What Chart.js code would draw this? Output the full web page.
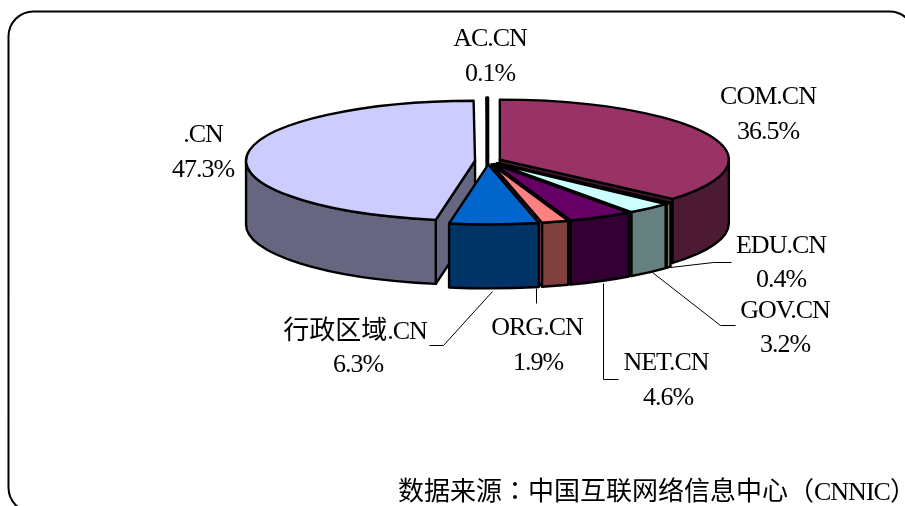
<!DOCTYPE html>
<html><head><meta charset="utf-8">
<style>html,body{margin:0;padding:0;background:#fff;overflow:hidden}#w{width:905px;height:506px;position:relative}</style>
<script src="https://cdn.jsdelivr.net/npm/chart.js@4"></script>
</head><body><div id="w"><canvas id="c" width="905" height="506"></canvas></div>
<script>
const categories = ['COM.CN','EDU.CN','GOV.CN','NET.CN','ORG.CN','行政区域.CN','.CN','AC.CN'];
const shares = [36.5,0.4,3.2,4.6,1.9,6.3,47.3,0.1];
const topColors = ['#993366','#FFFFCC','#CCFFFF','#660066','#FF8080','#0066CC','#CCCCFF','#FFFFFF'];
const sideColors = ['#4D1A33','#808066','#668080','#330033','#804040','#003366','#666680','#808080'];
const source = '数据来源：中国互联网络信息中心（CNNIC）';

const pie = {cx:488, cy:161, r:229, k:60/229, depth:64, explode:13};
const paintOrder = [0,1,2,3,4,7,6,5];
const labelPos = [[768,96],[781,245],[785,310],[666,362],[537,327],[355,331],[203,134],[490,38]];
const valuePos = [[768,131],[781,279],[785,344],[668,397],[538,362],[358,364],[203,169],[490,73]];
const leaders = [null,[[670,267],[713,262],[731,262]],[[652,272],[720,325],[735,325]],[[603,283],[603,379],[618,379]],[[536,288],[536,303]],[[492,291],[443,345],[429,345]],null,null];
const latinFont = '26px "Liberation Serif",serif';
const cjkFont = '26px "Noto Sans CJK SC",sans-serif';
const punctFont = '26px "Noto Sans CJK TC",sans-serif';

function runsOf(text){
  return text.match(/[：（）]|[\u4e00-\u9fff]+|[^\u4e00-\u9fff：（）]+/g).map(t=>({t,
    font:/[：（）]/.test(t)?punctFont:/[\u4e00-\u9fff]/.test(t)?cjkFont:latinFont,
    ls:/[\u4e00-\u9fff：（）]/.test(t)?'0px':'-1px'}));
}
function widthOf(ctx,runs){
  return runs.reduce((w,r)=>{ctx.font=r.font;ctx.letterSpacing=r.ls;return w+ctx.measureText(r.t).width;},0);
}
function drawText(ctx,text,x,y,align){
  const runs=runsOf(text);
  let px=align==='center'?x-widthOf(ctx,runs)/2:x;
  ctx.textAlign='left';ctx.textBaseline='alphabetic';
  for(const r of runs){
    ctx.font=r.font;ctx.letterSpacing=r.ls;
    ctx.fillText(r.t,px,y+8);
    px+=ctx.measureText(r.t).width;
  }
  ctx.letterSpacing='0px';
}

const pie3d = {
  id:'pie3d',
  beforeDatasetDraw(chart){
    const ctx=chart.ctx, arcs=chart.getDatasetMeta(0).data;
    const {cx,cy,k,depth:D,explode}=pie;
    ctx.save();
    ctx.strokeStyle='#000'; ctx.lineWidth=2.4; ctx.lineJoin='round';
    for(const i of paintOrder){
      const a=arcs[i], s=a.startAngle, e=a.endAngle, m=(s+e)/2, r=a.outerRadius, ry=r*k;
      const X=cx+Math.cos(m)*explode, Y=cy+Math.sin(m)*explode*k;
      const face=(t)=>{
        const px=X+Math.cos(t)*r, py=Y+Math.sin(t)*ry;
        ctx.beginPath();ctx.moveTo(X,Y);ctx.lineTo(px,py);ctx.lineTo(px,py+D);ctx.lineTo(X,Y+D);ctx.closePath();
        ctx.fillStyle=sideColors[i];ctx.fill();ctx.stroke();
      };
      if(Math.cos(s)<0) face(s);
      if(Math.cos(e)>0) face(e);
      const a0=Math.max(s,0), a1=Math.min(e,Math.PI);
      if(a1>a0){
        ctx.beginPath();
        ctx.ellipse(X,Y,r,ry,0,a0,a1);
        ctx.ellipse(X,Y+D,r,ry,0,a1,a0,true);
        ctx.closePath();
        ctx.fillStyle=sideColors[i];ctx.fill();ctx.stroke();
      }
      ctx.save();
      ctx.translate(X,Y);ctx.scale(1,k);ctx.translate(-a.x,-a.y);
      a.draw(ctx);
      ctx.restore();
      ctx.beginPath();ctx.moveTo(X,Y);ctx.ellipse(X,Y,r,ry,0,s,e);ctx.closePath();ctx.stroke();
    }
    ctx.restore();
    return false;
  },
  afterDraw(chart){
    const ctx=chart.ctx, vals=chart.data.datasets[0].data, labels=chart.data.labels;
    ctx.save();
    ctx.strokeStyle='#000';ctx.lineWidth=2;
    ctx.beginPath();ctx.roundRect(8.5,11.5,906,501,25);ctx.stroke();
    ctx.lineWidth=1;
    leaders.forEach(l=>{ if(!l) return; ctx.beginPath();l.forEach((p,j)=>j?ctx.lineTo(p[0]+.5,p[1]+.5):ctx.moveTo(p[0]+.5,p[1]+.5));ctx.stroke();});
    ctx.fillStyle='#000';
    labels.forEach((t,i)=>{
      drawText(ctx,t,labelPos[i][0],labelPos[i][1],'center');
      drawText(ctx,vals[i].toFixed(1)+'%',valuePos[i][0],valuePos[i][1],'center');
    });
    drawText(ctx,source,398,492,'left');
    ctx.restore();
  }
};

new Chart(document.getElementById('c'),{
  type:'pie',
  data:{labels:categories,datasets:[{data:shares,backgroundColor:topColors,borderWidth:0,radius:pie.r}]},
  options:{responsive:false,animation:false,devicePixelRatio:1,
    layout:{padding:{left:71}},
    plugins:{legend:{display:false},tooltip:{enabled:false},title:{display:false}}},
  plugins:[pie3d]
});
</script></body></html>
